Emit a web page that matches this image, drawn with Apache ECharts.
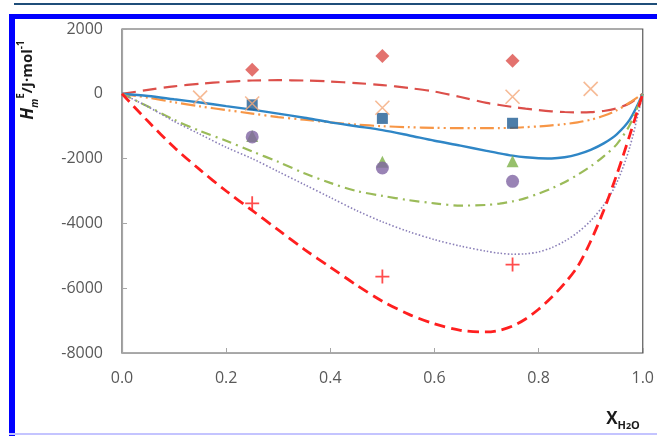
<!DOCTYPE html>
<html>
<head>
<meta charset="utf-8">
<script src="https://cdn.jsdelivr.net/npm/echarts@6/dist/echarts.min.js"></script>
<style>
html,body{margin:0;padding:0;background:#fff;}
#chart{width:657px;height:436px;}
</style>
</head>
<body>
<div id="chart"></div>
<script>
// ---- data ----
const curveX = [0,0.05,0.1,0.15,0.2,0.25,0.3,0.35,0.4,0.45,0.5,0.55,0.6,0.65,0.7,0.725,0.75,0.775,0.8,0.825,0.85,0.875,0.9,0.925,0.95,0.975,1.0];
const redTopCurve = [0,120,230,310,370,410,420,410,380,330,270,180,70,-100,-280,-345,-405,-460,-505,-540,-562,-572,-565,-530,-450,-290,0];
const orangeCurve = [0,-120,-260,-390,-500,-610,-720,-800,-880,-950,-1000,-1030,-1050,-1060,-1060,-1058,-1050,-1030,-1005,-975,-935,-880,-800,-680,-510,-270,0];
const blueCurve   = [0,-70,-170,-270,-380,-490,-610,-740,-880,-1000,-1120,-1280,-1450,-1600,-1760,-1840,-1910,-1960,-1990,-1995,-1960,-1870,-1730,-1530,-1250,-800,0];
const greenCurve  = [0,-390,-800,-1150,-1450,-1780,-2100,-2450,-2750,-3000,-3150,-3280,-3380,-3450,-3430,-3390,-3320,-3220,-3080,-2920,-2730,-2500,-2240,-1930,-1560,-960,0];
const purpleCurve = [0,-400,-850,-1250,-1650,-2000,-2400,-2800,-3200,-3600,-3950,-4250,-4500,-4700,-4860,-4920,-4950,-4940,-4880,-4750,-4550,-4280,-3920,-3430,-2750,-1650,0];
const redBotCurve = [0,-850,-1650,-2350,-3000,-3600,-4200,-4800,-5350,-5900,-6400,-6800,-7100,-7300,-7350,-7300,-7170,-6950,-6650,-6280,-5850,-5330,-4550,-3600,-2500,-1280,0];

const diamondX = [0.25,0.5,0.75];          const diamondY = [740,1170,1020];
const crossX   = [0.15,0.25,0.5,0.75,0.9]; const crossY   = [-120,-300,-430,-90,150];
const squareX  = [0.25,0.5,0.75];          const squareY  = [-340,-760,-910];
const triX     = [0.25,0.5,0.75];          const triY     = [-1300,-2100,-2080];
const circleX  = [0.25,0.5,0.75];          const circleY  = [-1330,-2290,-2700];
const plusX    = [0.25,0.5,0.75];          const plusY    = [-3380,-5640,-5270];

const xTicks = ['0.0','0.2','0.4','0.6','0.8','1.0'];
const yTicks = [2000,0,-2000,-4000,-6000,-8000];

// ---- build ----
const pairs = (xs, ys) => xs.map((x,i)=>[x, ys[i]]);
const FONT = '"Open Sans", "Liberation Sans", sans-serif';

function curve(ys, color, type, width){
  return {type:'line', data:pairs(curveX, ys), smooth:0.3, showSymbol:false, symbol:'none',
    lineStyle:{color:color, type:type, width:width, cap:'butt'}, z:2, silent:true};
}
function marks(xs, ys, symbol, size, style){
  return {type:'scatter', data:pairs(xs, ys), symbol:symbol, symbolSize:size, itemStyle:style, z:5, silent:true};
}

const chart = echarts.init(document.getElementById('chart'), null, {renderer:'canvas'});
chart.setOption({
  animation:false,
  backgroundColor:'#ffffff',
  grid:{left:122, top:29, right:12, bottom:83, show:true, borderColor:'#595959', borderWidth:1.2, backgroundColor:'transparent'},
  xAxis:{type:'value', min:0, max:1, interval:0.2,
    axisLine:{show:true, onZero:false, lineStyle:{color:'#A6A6A6', width:1.2}},
    axisTick:{show:true, inside:true, length:5, lineStyle:{color:'#A6A6A6'}},
    splitLine:{show:false},
    axisLabel:{margin:17, color:'#595959', fontSize:16, fontFamily:FONT,
      formatter:(v)=>xTicks[Math.round(v/0.2)] }},
  yAxis:{type:'value', min:-8000, max:2000, interval:2000,
    axisLine:{show:true, onZero:false, lineStyle:{color:'#A6A6A6', width:1.2}},
    axisTick:{show:true, inside:true, length:5, lineStyle:{color:'#A6A6A6'}},
    splitLine:{show:false},
    axisLabel:{margin:19, color:'#595959', fontSize:16, fontFamily:FONT,
      formatter:(v)=> yTicks.indexOf(v)>=0 ? String(v) : ''}},
  series:[
    curve(redTopCurve, '#DC4F4A', [14,7], 2.2),
    curve(orangeCurve, '#F79646', [14,4,2,4,2,4], 2.2),
    curve(blueCurve, '#2F86C6', 'solid', 2.4),
    curve(greenCurve, '#9BBB59', [10,5,2,5], 2.2),
    curve(purpleCurve, '#8A7FB8', [1.5,2], 1.6),
    curve(redBotCurve, '#FF1F1F', [11,6], 2.8),
    marks(diamondX, diamondY, 'diamond', 14, {color:'#DC4F4A'}),
    marks(triX, triY, 'triangle', 12, {color:'#7DB047'}),
    marks(circleX, circleY, 'circle', 13, {color:'#8064A2'}),
    marks(squareX, squareY, 'rect', 11, {color:'#1F5C93'}),
    marks(crossX, crossY, 'path://M0,0L10,10M10,0L0,10', 14, {color:'transparent', borderColor:'#F4A97A', borderWidth:1.6}),
    marks(plusX, plusY, 'path://M5,0L5,10M0,5L10,5', 14, {color:'transparent', borderColor:'#FF1F1F', borderWidth:1.8})
  ],
  graphic:[
    {type:'rect', shape:{x:14, y:3, width:643, height:2}, style:{fill:'#1F4E79'}, silent:true},
    {type:'rect', shape:{x:9, y:14, width:648, height:5}, style:{fill:'#0000FF'}, silent:true},
    {type:'rect', shape:{x:9, y:14, width:6, height:422}, style:{fill:'#0000FF'}, silent:true},
    {type:'rect', shape:{x:9, y:433, width:648, height:2}, style:{fill:'#C4C4FF'}, silent:true},
    {type:'text', x:28, y:80, rotation:Math.PI/2, silent:true,
      style:{text:'{h|H}{sub|m}{sup|E}{n|/J·mol}{sup|-1}', align:'center', verticalAlign:'middle',
        rich:{
          h:{fontSize:17, fontWeight:'bold', fontStyle:'italic', fontFamily:FONT, fill:'#1a1a1a', lineHeight:24},
          n:{fontSize:15, fontWeight:'bold', fontFamily:FONT, fill:'#1a1a1a', lineHeight:24},
          sub:{fontSize:10, fontWeight:'bold', fontStyle:'italic', fontFamily:FONT, fill:'#1a1a1a', verticalAlign:'bottom', lineHeight:12},
          sup:{fontSize:10, fontWeight:'bold', fontFamily:FONT, fill:'#1a1a1a', verticalAlign:'top', lineHeight:12}
        }}},
    {type:'text', x:623, y:419, silent:true,
      style:{text:'{x|X}{s|H}{s2|2}{s|O}', align:'center', verticalAlign:'middle',
        rich:{
          x:{fontSize:17, fontWeight:'bold', fontFamily:FONT, fill:'#1a1a1a', lineHeight:24},
          s:{fontSize:11, fontWeight:'bold', fontFamily:FONT, fill:'#1a1a1a', verticalAlign:'bottom', lineHeight:13},
          s2:{fontSize:9, fontWeight:'bold', fontFamily:FONT, fill:'#1a1a1a', verticalAlign:'bottom', lineHeight:11}
        }}}
  ]
});
</script>
</body>
</html>
